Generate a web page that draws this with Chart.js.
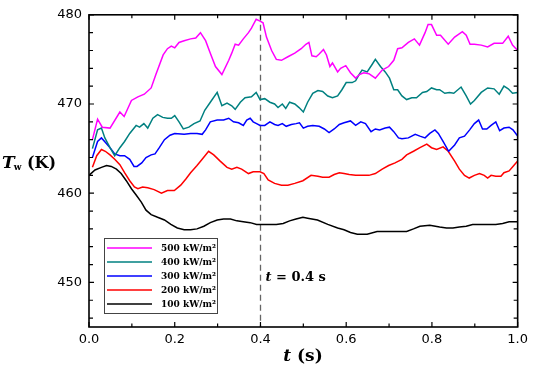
<!DOCTYPE html>
<html>
<head>
<meta charset="utf-8">
<script src="https://cdn.jsdelivr.net/npm/chart.js@4/dist/chart.umd.min.js"></script>
<style>
html,body{margin:0;padding:0;background:#fff;}
#wrap{width:533px;height:367px;}
</style>
</head>
<body>
<div id="wrap"><canvas id="c" width="533" height="367"></canvas></div>
<script>
// ---- data (time in s, wall temperature in K) ----
const seriesLabels = ['500 kW/m\u00b2', '400 kW/m\u00b2', '300 kW/m\u00b2', '200 kW/m\u00b2', '100 kW/m\u00b2'];
const seriesColors = ['#ff00ff', '#008080', '#0000ff', '#ff0000', '#000000'];

const t500 = [0.008,0.02,0.031,0.049,0.072,0.082,0.099,0.114,0.129,0.145,0.156,0.173,0.183,0.192,0.2,0.21,0.222,0.237,0.249,0.26,0.272,0.283,0.295,0.31,0.326,0.333,0.341,0.349,0.36,0.372,0.379,0.39,0.399,0.406,0.414,0.426,0.437,0.449,0.464,0.48,0.495,0.506,0.513,0.52,0.53,0.537,0.547,0.554,0.562,0.568,0.58,0.587,0.599,0.61,0.622,0.631,0.641,0.653,0.668,0.684,0.699,0.711,0.72,0.73,0.745,0.759,0.771,0.784,0.791,0.799,0.811,0.82,0.838,0.853,0.871,0.88,0.889,0.899,0.915,0.93,0.945,0.965,0.978,0.988,1.0];
const T500 = [466.0,468.3,467.4,467.3,469.1,468.6,470.4,470.8,471.1,471.8,473.3,475.5,476.2,476.5,476.3,476.9,477.1,477.3,477.4,478.0,477.1,475.7,474.2,473.3,474.9,475.7,476.7,476.6,477.3,478.0,478.5,479.5,479.3,479.1,477.5,476.0,475.0,474.9,475.3,475.7,476.2,476.7,476.9,475.4,475.3,475.6,476.1,475.5,474.2,474.6,473.6,474.0,474.3,473.5,472.9,473.3,473.5,473.4,472.9,473.8,474.2,474.9,476.2,476.3,476.9,477.3,476.6,478.0,478.9,478.9,477.7,477.7,476.7,477.5,478.1,477.7,476.7,476.7,476.6,476.4,476.8,476.8,477.6,476.6,476.0];

const t400 = [0.008,0.02,0.029,0.037,0.049,0.06,0.072,0.083,0.095,0.11,0.118,0.128,0.137,0.149,0.16,0.172,0.183,0.192,0.2,0.21,0.22,0.233,0.245,0.259,0.27,0.283,0.299,0.31,0.322,0.333,0.341,0.353,0.364,0.379,0.39,0.399,0.41,0.422,0.433,0.441,0.451,0.459,0.468,0.48,0.49,0.5,0.51,0.522,0.534,0.545,0.557,0.568,0.58,0.59,0.6,0.614,0.622,0.63,0.637,0.649,0.66,0.668,0.68,0.691,0.701,0.711,0.72,0.73,0.741,0.753,0.764,0.778,0.788,0.799,0.811,0.818,0.83,0.841,0.851,0.868,0.88,0.89,0.899,0.915,0.93,0.945,0.957,0.968,0.978,0.988,1.0];
const T400 = [465.0,467.1,467.3,466.2,465.1,464.2,465.1,465.8,466.7,467.6,467.4,467.8,467.3,468.4,468.8,468.5,468.4,468.4,468.7,468.0,467.2,467.4,467.8,468.1,469.3,470.2,471.3,469.8,470.1,469.8,469.4,470.2,470.7,470.8,471.3,470.5,470.6,470.2,470.0,469.6,470.0,469.5,470.2,470.0,469.6,469.1,470.2,471.2,471.5,471.4,470.9,470.7,470.9,471.6,472.4,472.4,472.6,473.3,473.8,473.6,474.4,475.0,474.2,473.6,472.9,471.6,471.6,470.9,470.5,470.7,470.7,471.3,471.4,471.8,471.6,471.6,471.2,471.3,471.2,471.9,470.9,470.0,470.4,471.3,471.8,471.7,471.1,472.0,471.7,471.2,471.3];

const t300 = [0.008,0.02,0.029,0.038,0.049,0.06,0.072,0.083,0.095,0.105,0.112,0.123,0.133,0.145,0.154,0.164,0.176,0.189,0.2,0.222,0.237,0.252,0.264,0.272,0.283,0.299,0.314,0.326,0.337,0.349,0.36,0.368,0.376,0.383,0.391,0.399,0.41,0.422,0.433,0.441,0.451,0.46,0.472,0.483,0.491,0.5,0.51,0.522,0.537,0.549,0.56,0.572,0.584,0.595,0.61,0.622,0.634,0.645,0.658,0.668,0.678,0.691,0.701,0.711,0.722,0.73,0.745,0.761,0.772,0.784,0.795,0.807,0.815,0.826,0.839,0.853,0.864,0.876,0.888,0.899,0.909,0.918,0.928,0.938,0.949,0.958,0.968,0.98,0.989,1.0];
const T300 = [464.0,465.8,466.2,465.7,465.1,464.4,464.2,464.2,463.8,463.0,463.0,463.4,464.0,464.3,464.4,465.1,466.0,466.5,466.7,466.6,466.7,466.7,466.6,467.1,468.0,468.2,468.2,468.4,468.0,467.9,467.6,468.2,468.4,468.0,467.8,467.6,467.6,468.0,467.7,467.6,467.8,467.5,467.7,467.8,467.9,467.3,467.5,467.6,467.5,467.2,466.8,467.2,467.7,467.9,468.1,467.6,468.0,467.8,466.9,467.2,467.1,467.3,467.4,466.9,466.2,466.1,466.2,466.6,466.4,466.2,466.7,467.1,466.7,465.8,464.7,465.4,466.2,466.4,467.1,467.8,468.2,467.2,467.2,467.6,468.0,467.0,467.3,467.4,467.1,466.4];

const t200 = [0.008,0.018,0.029,0.038,0.049,0.06,0.072,0.083,0.095,0.106,0.114,0.125,0.137,0.152,0.169,0.183,0.199,0.214,0.226,0.237,0.252,0.264,0.279,0.291,0.306,0.322,0.333,0.345,0.356,0.372,0.383,0.399,0.408,0.418,0.433,0.449,0.464,0.48,0.499,0.518,0.534,0.545,0.56,0.572,0.584,0.595,0.607,0.622,0.637,0.653,0.668,0.684,0.699,0.714,0.73,0.741,0.757,0.772,0.788,0.799,0.811,0.826,0.838,0.853,0.864,0.876,0.887,0.899,0.911,0.922,0.93,0.938,0.949,0.961,0.968,0.98,0.991,1.0];
const T200 = [462.9,464.2,464.9,464.7,464.3,463.8,463.2,462.3,461.4,460.7,460.5,460.7,460.6,460.4,460.0,460.3,460.3,460.9,461.6,462.3,463.1,463.8,464.7,464.3,463.6,462.9,462.7,462.9,462.7,462.2,462.4,462.4,462.2,461.5,461.1,460.9,460.9,461.1,461.4,462.0,461.9,461.8,461.8,462.1,462.3,462.2,462.1,462.0,462.0,462.0,462.2,462.7,463.1,463.4,463.8,464.3,464.7,465.1,465.5,465.1,464.9,465.2,464.7,463.6,462.7,462.0,461.7,462.0,462.2,462.0,461.7,462.0,461.9,461.9,462.3,462.5,463.1,463.6];

const t100 = [0,0.014,0.029,0.041,0.052,0.064,0.075,0.087,0.099,0.11,0.122,0.133,0.145,0.16,0.176,0.191,0.206,0.222,0.237,0.252,0.268,0.283,0.299,0.314,0.33,0.345,0.36,0.376,0.391,0.406,0.422,0.437,0.453,0.468,0.483,0.499,0.51,0.533,0.557,0.58,0.595,0.61,0.626,0.649,0.672,0.695,0.718,0.741,0.757,0.772,0.795,0.818,0.834,0.849,0.864,0.88,0.895,0.918,0.949,0.965,0.98,1.0];
const T100 = [462.0,462.6,462.9,463.1,463.0,462.7,462.2,461.4,460.5,459.8,459.0,458.1,457.6,457.3,457.0,456.5,456.1,455.9,455.9,456.0,456.3,456.7,457.0,457.1,457.1,456.9,456.8,456.7,456.5,456.5,456.5,456.5,456.6,456.9,457.1,457.3,457.2,457.0,456.5,456.1,455.9,455.6,455.4,455.4,455.7,455.7,455.7,455.7,456.0,456.3,456.4,456.2,456.1,456.1,456.2,456.3,456.5,456.5,456.5,456.6,456.8,456.8];

const xTickValues = [0, 0.2, 0.4, 0.6, 0.8, 1.0];
const yTickValues = [450, 460, 470, 480];
const markerTime = 0.4;
const markerText = ['t', ' = 0.4 s'];
const xTitle = ['t', ' (s)'];
const yTitle = ['T', 'w', ' (K)'];

const seriesTimes = [t500, t400, t300, t200, t100];
const seriesTemps = [T500, T400, T300, T200, T100];

const datasets = seriesLabels.map((lab, i) => ({
  label: lab,
  data: seriesTimes[i].map((t, k) => ({x: t, y: seriesTemps[i][k]})),
  borderColor: seriesColors[i],
  backgroundColor: seriesColors[i],
  borderWidth: 1.5,
  pointRadius: 0,
  tension: 0,
  fill: false
}));

const SERIF = '"DejaVu Serif", "Liberation Serif", serif';

const decorPlugin = {
  id: 'decor',
  beforeDatasetsDraw(chart) {
    const {ctx, chartArea: a, scales: {x}} = chart;
    const px = Math.round(x.getPixelForValue(markerTime)) + 0.5;
    ctx.save();
    ctx.strokeStyle = '#666';
    ctx.lineWidth = 1.3;
    ctx.setLineDash([6, 4]);
    ctx.beginPath();
    ctx.moveTo(px, a.top);
    ctx.lineTo(px, a.bottom);
    ctx.stroke();
    ctx.restore();
  },
  afterDraw(chart) {
    const {ctx, chartArea: a, scales: {x, y}} = chart;
    ctx.save();
    // frame
    ctx.strokeStyle = '#000';
    ctx.lineWidth = 1.6;
    ctx.strokeRect(a.left, a.top, a.right - a.left, a.bottom - a.top);
    // ticks
    ctx.lineWidth = 1.2;
    ctx.beginPath();
    for (let v = 0; v <= 1.0001; v += 0.1) {
      const px = x.getPixelForValue(v);
      const major = Math.abs(Math.round(v * 10) % 2) === 0;
      const len = major ? 5 : 3.5;
      ctx.moveTo(px, a.bottom); ctx.lineTo(px, a.bottom - len);
      ctx.moveTo(px, a.top); ctx.lineTo(px, a.top + len);
    }
    for (let v = y.min; v <= y.max + 0.001; v += 1) {
      if (Math.round(v) % 2 !== 0) continue;
      const py = y.getPixelForValue(v);
      const major = Math.round(v) % 10 === 0;
      const len = major ? 5 : 4;
      ctx.moveTo(a.left, py); ctx.lineTo(a.left + len, py);
      ctx.moveTo(a.right, py); ctx.lineTo(a.right - len, py);
    }
    ctx.stroke();

    // marker annotation
    ctx.fillStyle = '#000';
    ctx.textBaseline = 'alphabetic';
    ctx.textAlign = 'left';
    let tx = x.getPixelForValue(markerTime) + 5;
    const ty = 281;
    ctx.font = 'italic bold 13px ' + SERIF;
    ctx.fillText(markerText[0], tx, ty);
    tx += ctx.measureText(markerText[0]).width;
    ctx.font = 'bold 13px ' + SERIF;
    ctx.fillText(markerText[1], tx, ty);

    // x title
    ctx.font = 'italic bold 17px ' + SERIF;
    const w1 = ctx.measureText(xTitle[0]).width;
    ctx.font = 'bold 17px ' + SERIF;
    const w2 = ctx.measureText(xTitle[1]).width;
    let sx = 303 - (w1 + w2) / 2;
    ctx.font = 'italic bold 17px ' + SERIF;
    ctx.fillText(xTitle[0], sx, 361);
    ctx.font = 'bold 17px ' + SERIF;
    ctx.fillText(xTitle[1], sx + w1, 361);

    // y title
    let yx = 2;
    const yb = 168;
    ctx.font = 'italic bold 17px ' + SERIF;
    ctx.fillText(yTitle[0], yx, yb);
    yx += ctx.measureText(yTitle[0]).width - 1;
    ctx.font = 'bold 9px ' + SERIF;
    ctx.fillText(yTitle[1], yx, yb + 2);
    yx += ctx.measureText(yTitle[1]).width;
    ctx.font = 'bold 16px ' + SERIF;
    ctx.fillText(yTitle[2], yx, yb);

    // legend
    const lx = 104.5, ly = 238.5, lw = 113, lh = 75;
    ctx.fillStyle = '#fff';
    ctx.fillRect(lx, ly, lw, lh);
    ctx.strokeStyle = '#444';
    ctx.lineWidth = 1;
    ctx.strokeRect(lx, ly, lw, lh);
    ctx.font = 'bold 9px ' + SERIF;
    chart.data.datasets.forEach((ds, i) => {
      const ry = Math.round(248 + i * 14.1);
      ctx.strokeStyle = seriesColors[i];
      ctx.lineWidth = 1.6;
      ctx.beginPath();
      ctx.moveTo(107, ry);
      ctx.lineTo(152, ry);
      ctx.stroke();
      ctx.fillStyle = '#000';
      ctx.fillText(ds.label, 161, ry + 3);
    });
    ctx.restore();
  }
};

new Chart(document.getElementById('c'), {
  type: 'line',
  data: {datasets},
  options: {
    responsive: false,
    animation: false,
    devicePixelRatio: 1,
    layout: {padding: {top: 8, right: 11, left: 0, bottom: 0}},
    plugins: {legend: {display: false}, tooltip: {enabled: false}},
    scales: {
      x: {
        type: 'linear',
        min: 0, max: 1,
        afterBuildTicks: s => { s.ticks = xTickValues.map(v => ({value: v})); },
        afterFit: s => { s.height = 40; },
        grid: {display: false, drawTicks: false},
        border: {display: false},
        ticks: {
          autoSkip: false, maxRotation: 0, padding: 5,
          color: '#000',
          font: {family: '"DejaVu Sans", sans-serif', size: 13},
          callback: v => Number(v).toFixed(1)
        }
      },
      y: {
        type: 'linear',
        min: 445, max: 480,
        afterBuildTicks: s => { s.ticks = yTickValues.map(v => ({value: v})); },
        afterFit: s => { s.width = 89; },
        grid: {display: false, drawTicks: false},
        border: {display: false},
        ticks: {
          autoSkip: false, padding: 7,
          color: '#000',
          font: {family: '"DejaVu Sans", sans-serif', size: 13},
          callback: v => String(v)
        }
      }
    }
  },
  plugins: [decorPlugin]
});
</script>
</body>
</html>
